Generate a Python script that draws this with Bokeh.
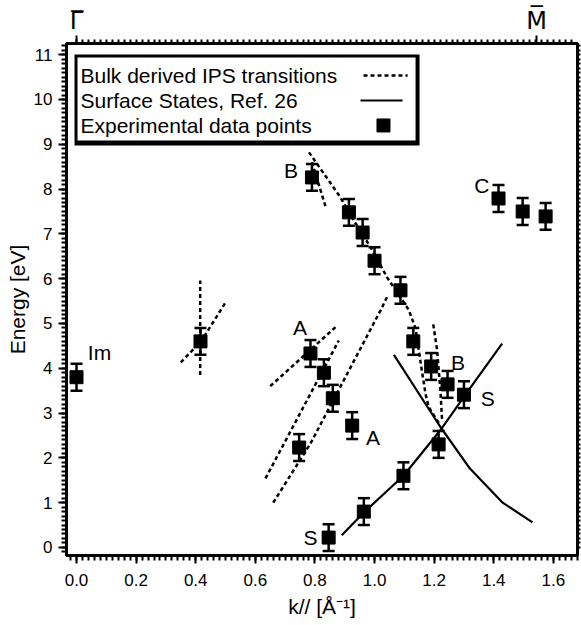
import numpy as np
from bokeh.plotting import figure
from bokeh.models import (Range1d, LinearAxis, SingleIntervalTicker, FixedTicker,
                          ColumnDataSource, PrintfTickFormatter, CustomJSTickFormatter)
from bokeh.core.properties import value
from bokeh.embed import file_html
from bokeh.resources import INLINE

# ---------------- data ----------------
k_par = [0.0, 0.416, 0.785, 0.83, 0.86, 0.747, 0.925, 0.79, 0.914, 0.96, 1.0, 1.087,
         1.13, 1.19, 1.245, 1.30, 1.215, 1.097, 0.964, 0.846, 1.416, 1.497, 1.574]
energy = [3.8, 4.6, 4.33, 3.9, 3.33, 2.23, 2.72, 8.26, 7.48, 7.03, 6.4, 5.74,
          4.6, 4.04, 3.64, 3.41, 2.3, 1.6, 0.8, 0.22, 7.79, 7.5, 7.39]
energy_err = [0.3] * len(k_par)

# bulk derived IPS transitions (dashed)
bulk_1_k = [0.415, 0.415]
bulk_1_e = [3.85, 5.96]
bulk_2_k = [0.35, 0.42, 0.50]
bulk_2_e = [4.13, 4.62, 5.47]
bulk_3_k = [0.65, 0.876]
bulk_3_e = [3.6, 4.96]
bulk_4_k = [0.634, 0.88]
bulk_4_e = [1.54, 4.62]
bulk_5_k = [0.66, 0.785, 1.02, 1.042]
bulk_5_e = [1.0, 2.32, 5.29, 5.59]
bulk_6_k = [0.78, 0.886, 0.93, 0.987, 1.042, 1.115, 1.138, 1.157, 1.171, 1.182, 1.221]
bulk_6_e = [8.82, 7.81, 7.3, 6.7, 6.03, 5.3, 4.88, 4.02, 3.43, 3.13, 2.72]
bulk_7_k = [0.79, 0.836]
bulk_7_e = [8.6, 7.6]
bulk_8_k = [1.197, 1.21, 1.221, 1.227]
bulk_8_e = [4.98, 4.4, 3.5, 2.8]

# surface states, Ref. 26 (solid)
surf_1_k = [0.89, 0.964, 1.097, 1.22, 1.32, 1.428]
surf_1_e = [0.27, 0.78, 1.6, 2.61, 3.55, 4.55]
surf_2_k = [1.065, 1.22, 1.32, 1.43, 1.53]
surf_2_e = [4.3, 2.7, 1.76, 1.0, 0.56]

# point labels
lab_text = ["Im", "A", "A", "B", "B", "S", "S", "C"]
lab_k = [0.077, 0.75, 0.995, 0.72, 1.28, 1.38, 0.785, 1.36]
lab_e = [4.35, 4.9, 2.45, 8.42, 4.13, 3.33, 0.22, 8.08]

legend_labels = ["Bulk derived IPS transitions", "Surface States, Ref. 26", "Experimental data points"]

# symmetry points on the top axis
sym_k = [0.0, 1.544]
sym_names = ["Γ\u0305", "M\u0305"]

x_title = "k// [Å⁻¹]"
y_title = "Energy [eV]"

FONT = "Liberation Sans"

# ---------------- figure ----------------
p = figure(width=581, height=625, output_backend="svg", toolbar_location=None,
           x_range=Range1d(-0.0336, 1.681), y_range=Range1d(-0.18, 11.25),
           min_border_left=66, min_border_right=4, min_border_top=43, min_border_bottom=70,
           x_axis_location=None, y_axis_location=None)
p.grid.visible = False
p.outline_line_color = "black"
p.outline_line_width = 3
p.background_fill_color = "white"
p.border_fill_color = "white"


def style_axis(ax, tick_out, minor_out, fs="17px", standoff=7):
    ax.axis_line_width = 3
    ax.axis_line_color = "black"
    ax.major_tick_in = 0
    ax.minor_tick_in = 0
    ax.major_tick_out = tick_out
    ax.minor_tick_out = minor_out
    ax.major_tick_line_width = 2
    ax.minor_tick_line_width = 2
    ax.major_tick_line_color = "black"
    ax.minor_tick_line_color = "black"
    ax.major_label_text_font = FONT
    ax.major_label_text_font_size = fs
    ax.major_label_text_color = "black"
    ax.major_label_standoff = standoff
    ax.axis_label_text_font = FONT
    ax.axis_label_text_font_style = "normal"
    ax.axis_label_text_color = "black"


xb = LinearAxis(ticker=SingleIntervalTicker(interval=0.2, num_minor_ticks=10),
                formatter=PrintfTickFormatter(format="%.1f"), axis_label=x_title)
style_axis(xb, 8, 5, standoff=10)
xb.axis_label_text_font_size = "21px"
xb.axis_label_standoff = 6
p.add_layout(xb, "below")

yl = LinearAxis(ticker=SingleIntervalTicker(interval=1, num_minor_ticks=10), axis_label=y_title)
style_axis(yl, 8, 5, standoff=6)
yl.axis_label_text_font_size = "21px"
yl.axis_label_standoff = 2
p.add_layout(yl, "left")

top_minor = list(np.round(np.arange(0.0, 1.67, 0.02), 3))
xt = LinearAxis(ticker=FixedTicker(ticks=sym_k, minor_ticks=top_minor),
                formatter=CustomJSTickFormatter(args=dict(names=sym_names),
                                                code="return tick < 0.5 ? names[0] : names[1];"))
style_axis(xt, 8, 4, fs="24px", standoff=1)
xt.major_label_text_font = "DejaVu Sans"
p.add_layout(xt, "above")

right_minor = list(np.round(np.arange(0.0, 11.25, 0.1), 2))
yr = LinearAxis(ticker=FixedTicker(ticks=[], minor_ticks=right_minor))
style_axis(yr, 3, 3)
p.add_layout(yr, "right")

# ---------------- lines ----------------
DASH = "4 3"
for kk, ee in [(bulk_1_k, bulk_1_e), (bulk_2_k, bulk_2_e), (bulk_3_k, bulk_3_e),
               (bulk_4_k, bulk_4_e), (bulk_5_k, bulk_5_e), (bulk_6_k, bulk_6_e),
               (bulk_7_k, bulk_7_e), (bulk_8_k, bulk_8_e)]:
    p.line(kk, ee, line_color="black", line_width=2.5, line_dash=DASH)

for kk, ee in [(surf_1_k, surf_1_e), (surf_2_k, surf_2_e)]:
    p.line(kk, ee, line_color="black", line_width=2.2)

# ---------------- data points ----------------
e = np.array(energy)
err = np.array(energy_err)
src = ColumnDataSource(dict(k=k_par, e=e, lo=e - err, hi=e + err))
p.segment(x0="k", y0="lo", x1="k", y1="hi", source=src, line_color="black", line_width=2.5)
p.scatter(x="k", y="lo", source=src, marker="dash", size=12, line_color="black", line_width=2.5)
p.scatter(x="k", y="hi", source=src, marker="dash", size=12, line_color="black", line_width=2.5)
p.scatter(x="k", y="e", source=src, marker="square", size=13, fill_color="black", line_color="black")

p.text(x=lab_k, y=lab_e, text=lab_text, text_font=value(FONT), text_font_size="21px",
       text_align="center", text_baseline="middle", text_color="black")

# ---------------- legend (hand drawn) ----------------
p.quad(left=[-0.0067], right=[1.151], top=[11.004], bottom=[8.973], fill_color="black", line_color=None)
p.quad(left=[0.0034], right=[1.1376], top=[10.937], bottom=[9.085], fill_color="white", line_color=None)
leg_y = [10.536, 9.978, 9.42]
p.text(x=[0.0134] * 3, y=leg_y, text=legend_labels, text_font=value(FONT), text_font_size="21px",
       text_align="left", text_baseline="middle", text_color="black")
p.line([0.963, 1.111], [leg_y[0], leg_y[0]], line_color="black", line_width=2.5, line_dash=DASH)
p.line([0.953, 1.094], [leg_y[1], leg_y[1]], line_color="black", line_width=2.2)
p.scatter([1.03], [leg_y[2]], marker="square", size=13, fill_color="black", line_color="black")

open("out.html", "w").write(file_html(p, INLINE))
